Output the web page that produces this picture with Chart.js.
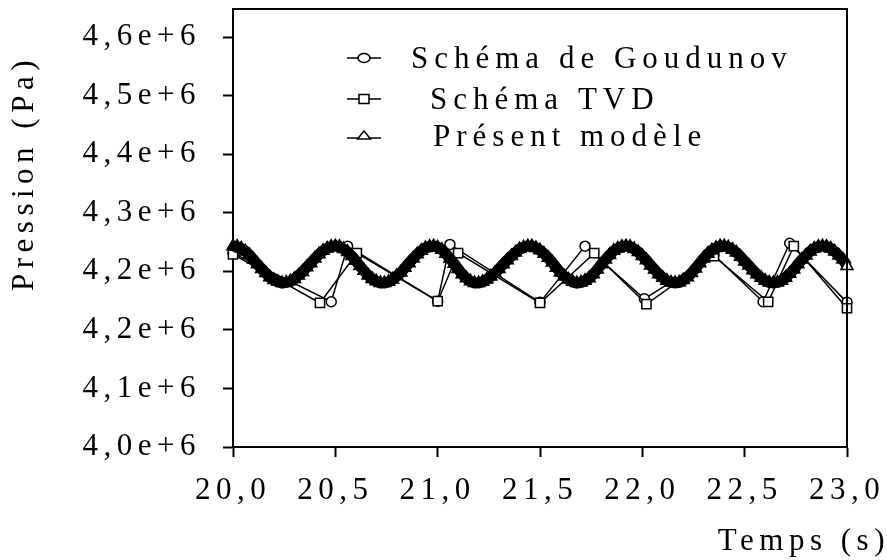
<!DOCTYPE html>
<html>
<head>
<meta charset="utf-8">
<script src="https://cdn.jsdelivr.net/npm/chart.js@4/dist/chart.umd.min.js"></script>
<style>
  html, body { margin: 0; padding: 0; background: #fff; }
  #wrap { width: 887px; height: 560px; }
</style>
</head>
<body>
<div id="wrap"><canvas id="pressureChart" width="887" height="560"></canvas></div>
<script>
// axis ticks (the original figure repeats 4,2e+6)
const xTickValues = [20.0, 20.5, 21.0, 21.5, 22.0, 22.5, 23.0];
const xTickLabels = ['20,0', '20,5', '21,0', '21,5', '22,0', '22,5', '23,0'];
const yTickValues = [4.0e6, 4.1e6, 4.2e6, 4.3e6, 4.4e6, 4.5e6, 4.6e6, 4.7e6];
const yTickLabels = ['4,0e+6', '4,1e+6', '4,2e+6', '4,2e+6', '4,3e+6', '4,4e+6', '4,5e+6', '4,6e+6'];

const seriesLabels = ['Schéma de Goudunov', 'Schéma TVD', 'Présent modèle'];

// Schéma de Goudunov (circles)
const goudTime = [20.00, 20.48, 20.56, 21.00, 21.06, 21.50, 21.72, 22.01, 22.35, 22.59, 22.72, 23.00];
const goudPressure = [4331e3, 4248e3, 4343e3, 4249e3, 4346e3, 4247e3, 4343e3, 4253e3, 4328e3, 4248e3, 4348e3, 4247e3];

// Schéma TVD (squares)
const tvdTime = [20.00, 20.425, 20.605, 21.00, 21.10, 21.50, 21.765, 22.02, 22.35, 22.615, 22.74, 23.00];
const tvdPressure = [4329e3, 4246e3, 4331e3, 4249e3, 4331e3, 4246e3, 4331e3, 4244e3, 4326e3, 4248e3, 4343e3, 4237e3];

// Présent modèle (dense triangles), pressure in kPa
const modelTime = [
  20.00, 20.02, 20.04, 20.06, 20.08, 20.10, 20.12, 20.14, 20.16, 20.18,
  20.20, 20.22, 20.24, 20.26, 20.28, 20.30, 20.32, 20.34, 20.36, 20.38,
  20.40, 20.42, 20.44, 20.46, 20.48, 20.50, 20.52, 20.54, 20.56, 20.58,
  20.60, 20.62, 20.64, 20.66, 20.68, 20.70, 20.72, 20.74, 20.76, 20.78,
  20.80, 20.82, 20.84, 20.86, 20.88, 20.90, 20.92, 20.94, 20.96, 20.98,
  21.00, 21.02, 21.04, 21.06, 21.08, 21.10, 21.12, 21.14, 21.16, 21.18,
  21.20, 21.22, 21.24, 21.26, 21.28, 21.30, 21.32, 21.34, 21.36, 21.38,
  21.40, 21.42, 21.44, 21.46, 21.48, 21.50, 21.52, 21.54, 21.56, 21.58,
  21.60, 21.62, 21.64, 21.66, 21.68, 21.70, 21.72, 21.74, 21.76, 21.78,
  21.80, 21.82, 21.84, 21.86, 21.88, 21.90, 21.92, 21.94, 21.96, 21.98,
  22.00, 22.02, 22.04, 22.06, 22.08, 22.10, 22.12, 22.14, 22.16, 22.18,
  22.20, 22.22, 22.24, 22.26, 22.28, 22.30, 22.32, 22.34, 22.36, 22.38,
  22.40, 22.42, 22.44, 22.46, 22.48, 22.50, 22.52, 22.54, 22.56, 22.58,
  22.60, 22.62, 22.64, 22.66, 22.68, 22.70, 22.72, 22.74, 22.76, 22.78,
  22.80, 22.82, 22.84, 22.86, 22.88, 22.90, 22.92, 22.94, 22.96, 22.98,
  23.00
];
const modelPressureKPa = [
  4343, 4342, 4339, 4334, 4328, 4320, 4312, 4304, 4297, 4290,
  4285, 4282, 4280, 4281, 4283, 4287, 4293, 4299, 4307, 4314,
  4322, 4329, 4335, 4339, 4342, 4343, 4342, 4338, 4333, 4326,
  4318, 4309, 4301, 4293, 4287, 4283, 4280, 4280, 4282, 4286,
  4292, 4298, 4306, 4314, 4322, 4329, 4335, 4340, 4342, 4343,
  4341, 4337, 4330, 4322, 4313, 4304, 4295, 4288, 4283, 4280,
  4280, 4282, 4286, 4291, 4297, 4304, 4312, 4319, 4326, 4332,
  4338, 4341, 4343, 4343, 4340, 4336, 4330, 4323, 4315, 4306,
  4298, 4291, 4286, 4282, 4280, 4281, 4284, 4288, 4295, 4303,
  4312, 4320, 4328, 4335, 4339, 4342, 4343, 4342, 4338, 4333,
  4326, 4319, 4310, 4303, 4295, 4289, 4284, 4281, 4280, 4281,
  4285, 4290, 4297, 4305, 4314, 4322, 4330, 4336, 4340, 4343,
  4343, 4341, 4337, 4332, 4325, 4317, 4310, 4302, 4295, 4289,
  4284, 4281, 4280, 4281, 4284, 4289, 4296, 4303, 4312, 4320,
  4327, 4334, 4339, 4342, 4343, 4342, 4339, 4334, 4327, 4320,
  4309
];

const FONT = "'Liberation Serif', 'Times New Roman', 'DejaVu Serif', serif";
const FONT_SIZE = 31;
const SPACING = '5.5px';
const LEGEND_SPACING = '6px';

const toPoints = (xs, ys, k = 1) => xs.map((x, i) => ({ x: x, y: ys[i] * k }));

const goudPts = toPoints(goudTime, goudPressure);
const tvdPts = toPoints(tvdTime, tvdPressure);
const modelPts = toPoints(modelTime, modelPressureKPa, 1000);

function drawMarker(ctx, style, x, y) {
    ctx.beginPath();
    if (style === 'circle') {
        ctx.ellipse(x, y, 6, 4.5, 0, 0, Math.PI * 2);
    } else if (style === 'rect') {
        ctx.rect(x - 5, y - 4.5, 10, 9);
    } else {
        ctx.moveTo(x, y - 5);
        ctx.lineTo(x + 6.5, y + 3);
        ctx.lineTo(x - 6.5, y + 3);
        ctx.closePath();
    }
    ctx.fillStyle = '#fff';
    ctx.fill();
    ctx.stroke();
}

const decorations = {
    id: 'decorations',
    beforeLayout(chart) { chart.ctx.letterSpacing = SPACING; },
    beforeDraw(chart) { chart.ctx.letterSpacing = SPACING; },
    afterDraw(chart) {
        const ctx = chart.ctx;
        const area = chart.chartArea;
        ctx.save();

        // top and right frame
        ctx.strokeStyle = '#000';
        ctx.lineWidth = 2;
        ctx.beginPath();
        ctx.moveTo(area.left, area.top);
        ctx.lineTo(area.right, area.top);
        ctx.lineTo(area.right, area.bottom);
        ctx.stroke();

        // legend
        const rows = [
            { y: 58, textX: 411, style: 'circle', lineY: 58 },
            { y: 99, textX: 430, style: 'rect', lineY: 99 },
            { y: 136, textX: 433, style: 'triangle', lineY: 138 }
        ];
        ctx.letterSpacing = LEGEND_SPACING;
        ctx.font = FONT_SIZE + 'px ' + FONT;
        ctx.textBaseline = 'alphabetic';
        ctx.textAlign = 'left';
        ctx.lineWidth = 1.5;
        rows.forEach((r, i) => {
            ctx.beginPath();
            ctx.moveTo(347, r.lineY);
            ctx.lineTo(381, r.lineY);
            ctx.stroke();
            drawMarker(ctx, r.style, 364, r.y);
            ctx.fillStyle = '#000';
            ctx.fillText(seriesLabels[i], r.textX, r.y + 10);
        });

        // axis titles
        ctx.letterSpacing = SPACING;
        ctx.fillStyle = '#000';
        ctx.textAlign = 'right';
        ctx.fillText('Temps (s)', 890, 550);

        ctx.translate(33, 176);
        ctx.rotate(-Math.PI / 2);
        ctx.textAlign = 'center';
        ctx.fillText('Pression (Pa)', 3, 0);
        ctx.restore();
        ctx.letterSpacing = SPACING;
    }
};

const axisGrid = {
    drawOnChartArea: false,
    drawTicks: true,
    tickLength: 10,
    tickWidth: 2,
    tickColor: '#000'
};

const lastModel = modelPts.length - 1;

new Chart(document.getElementById('pressureChart'), {
    type: 'line',
    data: {
        datasets: [
            {
                label: seriesLabels[2], data: modelPts, order: 0, clip: false,
                borderColor: '#000', borderWidth: 11,
                pointStyle: 'triangle', pointRadius: 7, pointBorderWidth: 1.5,
                pointBorderColor: '#000',
                pointBackgroundColor: c => c.dataIndex === lastModel ? '#fff' : '#000'
            },
            {
                label: seriesLabels[1], data: tvdPts, order: 1, clip: false,
                borderColor: '#000', borderWidth: 1.5,
                pointStyle: 'rect', pointRadius: 6.5, pointBorderWidth: 1.5,
                pointBorderColor: '#000', pointBackgroundColor: '#fff'
            },
            {
                label: seriesLabels[0], data: goudPts, order: 2, clip: false,
                borderColor: '#000', borderWidth: 1.5,
                pointStyle: 'circle', pointRadius: 5, pointBorderWidth: 1.5,
                pointBorderColor: '#000', pointBackgroundColor: '#fff'
            }
        ]
    },
    options: {
        responsive: false,
        animation: false,
        events: [],
        layout: { padding: { top: 9, right: 40, left: 0, bottom: 0 } },
        plugins: {
            legend: { display: false },
            tooltip: { enabled: false }
        },
        scales: {
            x: {
                type: 'linear',
                min: 20,
                max: 23,
                grid: axisGrid,
                border: { display: true, color: '#000', width: 2 },
                afterBuildTicks: axis => { axis.ticks = xTickValues.map(v => ({ value: v })); },
                afterFit: axis => {
                    axis.height = 113;
                    axis.paddingLeft = 0;
                    axis.paddingRight = 0;
                },
                ticks: {
                    autoSkip: false,
                    maxRotation: 0,
                    padding: 15,
                    color: '#000',
                    font: { family: FONT, size: FONT_SIZE },
                    callback: (v, i) => xTickLabels[i]
                }
            },
            y: {
                type: 'linear',
                min: 4.0e6,
                max: 4.748e6,
                grid: axisGrid,
                border: { display: true, color: '#000', width: 2 },
                afterBuildTicks: axis => { axis.ticks = yTickValues.map(v => ({ value: v })); },
                afterFit: axis => {
                    axis.width = 233;
                    axis.paddingTop = 0;
                    axis.paddingBottom = 0;
                },
                ticks: {
                    padding: 22,
                    color: '#000',
                    font: { family: FONT, size: FONT_SIZE },
                    callback: (v, i) => yTickLabels[i]
                }
            }
        }
    },
    plugins: [decorations]
});
</script>
</body>
</html>
